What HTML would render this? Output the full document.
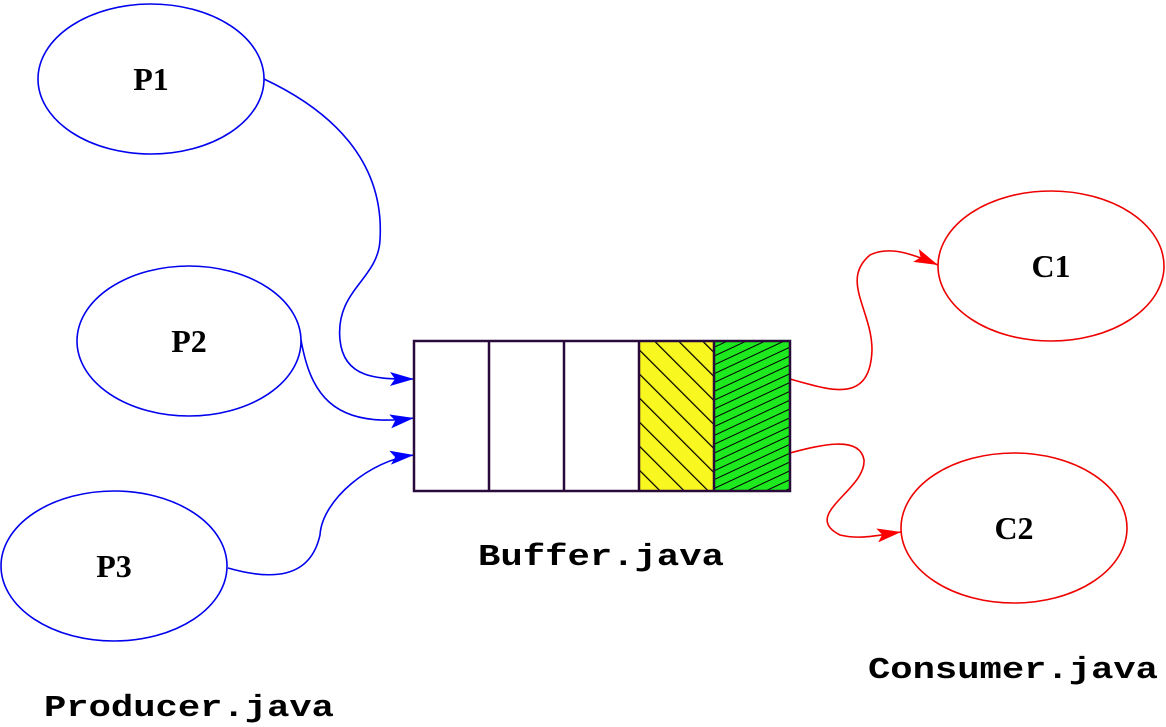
<!DOCTYPE html>
<html><head><style>html,body{margin:0;padding:0;background:#fff;}svg{display:block}</style></head>
<body>
<svg width="1166" height="727" viewBox="0 0 1166 727" xmlns="http://www.w3.org/2000/svg">
<defs>
<pattern id="hy" patternUnits="userSpaceOnUse" width="17" height="17" patternTransform="rotate(-45)">
<rect width="17" height="17" fill="#f8f820"/><line x1="0" y1="0" x2="0" y2="17" stroke="#000" stroke-width="2.5"/>
</pattern>
<pattern id="hg" patternUnits="userSpaceOnUse" width="8" height="8" patternTransform="rotate(65)">
<rect width="8" height="8" fill="#1ee81e"/><line x1="0" y1="0" x2="0" y2="8" stroke="#000" stroke-width="2"/>
</pattern>
<marker id="ab" markerWidth="24" markerHeight="14" refX="24" refY="7" orient="auto" markerUnits="userSpaceOnUse"><path d="M0,0 L24,7 L0,14 L5,7 Z" fill="#0000ff"/></marker>
<marker id="ar" markerWidth="24" markerHeight="14" refX="24" refY="7" orient="auto" markerUnits="userSpaceOnUse"><path d="M0,0 L24,7 L0,14 L5,7 Z" fill="#ff0000"/></marker>
</defs>
<g fill="none" stroke-width="1.6">
<ellipse cx="151" cy="79" rx="113" ry="75" stroke="#0000ee"/>
<ellipse cx="189" cy="341" rx="112" ry="75" stroke="#0000ee"/>
<ellipse cx="114" cy="566" rx="113" ry="75" stroke="#0000ee"/>
<ellipse cx="1051" cy="266" rx="113" ry="75" stroke="#ee0000"/>
<ellipse cx="1014" cy="528" rx="113" ry="75" stroke="#ee0000"/>
<path d="M264,79 C330,110 385,160 380,240 C378,280 335,290 340,340 C344,380 380,379 414,379" stroke="#0000ee" marker-end="url(#ab)"/>
<path d="M301,340 C310,390 330,430 414,418" stroke="#0000ee" marker-end="url(#ab)"/>
<path d="M228,568 C270,580 310,580 320,535 C322,500 370,460 414,455" stroke="#0000ee" marker-end="url(#ab)"/>
<path d="M790,379 C830,390 870,405 872,350 C872,310 840,280 870,255 C890,245 915,255 938,265" stroke="#ee0000" marker-end="url(#ar)"/>
<path d="M790,453 C820,445 860,435 864,460 C866,490 800,515 840,535 C860,540 880,535 901,532" stroke="#ee0000" marker-end="url(#ar)"/>
</g>
<rect x="639" y="341" width="75" height="150" fill="url(#hy)"/>
<rect x="714" y="341" width="76" height="150" fill="url(#hg)"/>
<g stroke="#2a0a3a" stroke-width="2.5" fill="none">
<rect x="414" y="341" width="376" height="150"/>
<line x1="489" y1="341" x2="489" y2="491"/><line x1="564" y1="341" x2="564" y2="491"/>
<line x1="639" y1="341" x2="639" y2="491"/><line x1="714" y1="341" x2="714" y2="491"/>
</g>
<g font-family="Liberation Serif, serif" font-weight="bold" font-size="32" text-anchor="middle">
<text x="151" y="90">P1</text><text x="189" y="352">P2</text><text x="114" y="577">P3</text>
<text x="1051" y="277">C1</text><text x="1014" y="539">C2</text>
</g>
<g font-family="Liberation Mono, monospace" font-weight="bold" font-size="31">
<text x="478" y="565" textLength="246" lengthAdjust="spacingAndGlyphs">Buffer.java</text>
<text x="868" y="678" textLength="290" lengthAdjust="spacingAndGlyphs">Consumer.java</text>
<text x="44" y="716" textLength="290" lengthAdjust="spacingAndGlyphs">Producer.java</text>
</g>
</svg>
</body></html>
